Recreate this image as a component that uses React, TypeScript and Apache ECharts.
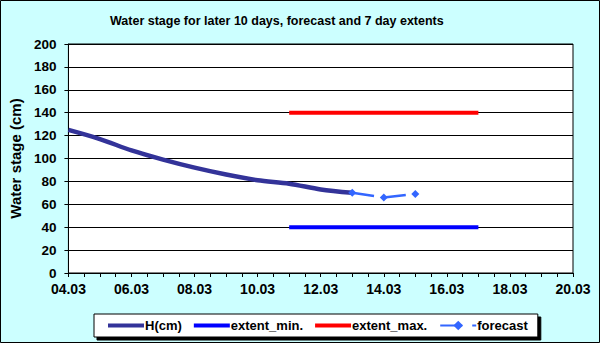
import React, { useEffect, useRef } from "react";
import * as echarts from "echarts";

const hDates = ["04.03", "05.03", "06.03", "07.03", "08.03", "09.03", "10.03", "11.03", "12.03", "13.03"];
const hValues = [125, 117, 107, 99, 92, 86, 81, 78, 73, 70];
const forecastDates = ["13.03", "14.03", "15.03"];
const forecastValues = [70, 66, 69];
const extentDates = ["11.03", "17.03"];
const extentMin = [40, 40];
const extentMax = [140, 140];
const yTicks = [0, 20, 40, 60, 80, 100, 120, 140, 160, 180, 200];
const xRange = ["04.03", "20.03"];

const day = (s: string) => parseInt(s.split(".")[0], 10);
const pair = (dates: string[], vals: number[]) => dates.map((d, i) => [day(d), vals[i]]);

export default function App() {
  const ref = useRef<HTMLDivElement>(null);
  useEffect(() => {
    document.body.style.margin = "0";
    const chart = echarts.init(ref.current!, null, { renderer: "svg" });
    const font = "Arial, 'Liberation Sans', sans-serif";
    const bar = "path://M0,0H36V4H0Z";
    chart.setOption({
      animation: false,
      backgroundColor: "#ccffff",
      title: {
        text: "Water stage for later 10 days, forecast and 7 day extents",
        left: 110,
        top: 14,
        padding: 0,
        textStyle: { fontFamily: font, fontSize: 12.5, fontWeight: "bold", color: "#000" },
      },
      graphic: [
        {
          type: "rect",
          shape: { x: 0.5, y: 0.5, width: 599, height: 342 },
          style: { fill: "none", stroke: "#000", lineWidth: 1 },
          silent: true,
        },
      ],
      legend: {
        left: 94,
        top: 314,
        padding: [5, 10, 5, 14],
        itemGap: 12,
        itemWidth: 36,
        itemHeight: 12,
        symbolKeepAspect: true,
        backgroundColor: "#fff",
        borderColor: "#000",
        borderWidth: 1,
        borderRadius: 0,
        shadowColor: "#000",
        shadowOffsetX: 3,
        shadowOffsetY: 3,
        shadowBlur: 0,
        textStyle: { fontFamily: font, fontSize: 13, fontWeight: "bold", color: "#000", padding: [0, 0, 0, -4] },
        data: [
          { name: "H(cm)", icon: bar },
          { name: "extent_min.", icon: bar },
          { name: "extent_max.", icon: bar },
          { name: "forecast" },
        ],
      },
      grid: {
        left: 65,
        right: 27,
        top: 44,
        bottom: 70,
        show: true,
        backgroundColor: "#fff",
        borderColor: "#000",
        borderWidth: 1,
      },
      xAxis: {
        type: "value",
        min: day(xRange[0]),
        max: day(xRange[1]),
        interval: 2,
        axisLine: { show: true, lineStyle: { color: "#000", width: 1 } },
        axisTick: { show: true, length: 4, lineStyle: { color: "#000" } },
        minorTick: { show: true, splitNumber: 4, length: 4, lineStyle: { color: "#000" } },
        splitLine: { show: false },
        axisLabel: {
          margin: 9,
          fontFamily: font,
          fontSize: 14,
          fontWeight: "bold",
          color: "#000",
          formatter: (v: number) => String(v).padStart(2, "0") + ".03",
        },
      },
      yAxis: {
        type: "value",
        min: yTicks[0],
        max: yTicks[yTicks.length - 1],
        interval: yTicks[1] - yTicks[0],
        name: "Water stage (cm)",
        nameLocation: "middle",
        nameGap: 42,
        nameTextStyle: { fontFamily: font, fontSize: 15, fontWeight: "bold", color: "#000" },
        axisLine: { show: true, lineStyle: { color: "#000", width: 1 } },
        axisTick: { show: true, length: 4, lineStyle: { color: "#000" } },
        splitLine: { show: true, lineStyle: { color: "#000", width: 1 } },
        axisLabel: { margin: 12, fontFamily: font, fontSize: 13.5, fontWeight: "bold", color: "#000" },
      },
      series: [
        {
          name: "H(cm)",
          type: "line",
          data: pair(hDates, hValues),
          smooth: 0.3,
          showSymbol: false,
          symbol: "none",
          lineStyle: { color: "#333399", width: 4.5 },
          itemStyle: { color: "#333399" },
          z: 3,
        },
        {
          name: "extent_min.",
          type: "line",
          data: pair(extentDates, extentMin),
          symbol: "none",
          lineStyle: { color: "#0000ff", width: 4 },
          itemStyle: { color: "#0000ff" },
        },
        {
          name: "extent_max.",
          type: "line",
          data: pair(extentDates, extentMax),
          symbol: "none",
          lineStyle: { color: "#ff0000", width: 4 },
          itemStyle: { color: "#ff0000" },
        },
        {
          name: "forecast",
          type: "line",
          data: pair(forecastDates, forecastValues),
          symbol: "diamond",
          symbolSize: 8,
          lineStyle: { color: "#3366ff", width: 2.5, type: [22, 10] },
          itemStyle: { color: "#3366ff" },
          z: 4,
        },
      ],
    });
    return () => chart.dispose();
  }, []);
  return <div ref={ref} style={{ width: 600, height: 343 }} />;
}
